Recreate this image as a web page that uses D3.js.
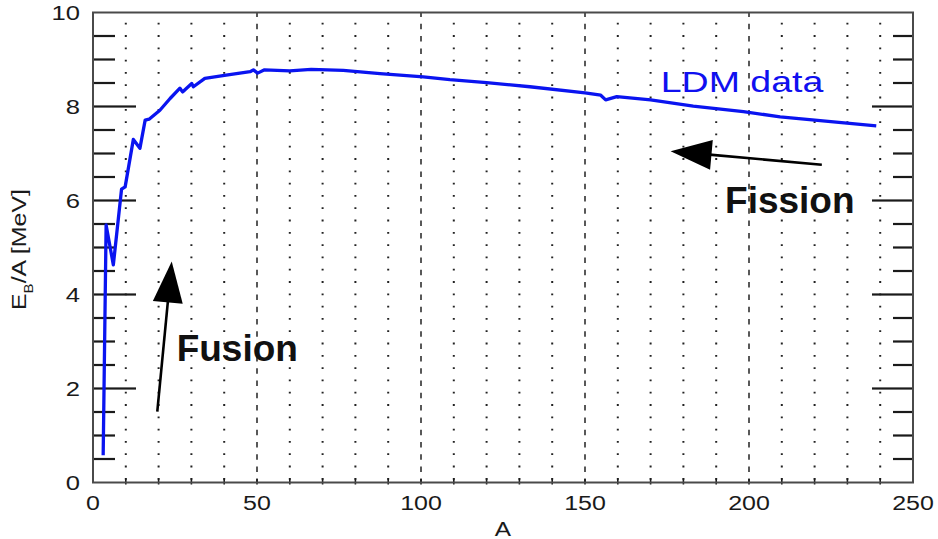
<!DOCTYPE html>
<html>
<head>
<meta charset="utf-8">
<script src="https://cdn.jsdelivr.net/npm/d3@7"></script>
<style>
  html, body { margin: 0; padding: 0; background: #fff; }
  svg { display: block; }
  text { font-family: "Liberation Sans", Arial, Helvetica, sans-serif; }
</style>
</head>
<body>
<svg id="chart" width="938" height="539"></svg>
<script>
// Binding energy per nucleon vs. mass number (liquid-drop model data)
const massNumber = [3.1, 4.0, 6.2, 8.7, 9.8, 12.3, 14.3, 15.9, 17.1, 20.4, 23.5, 26.5, 27.3, 30.1, 30.6,
  34.1, 40.6, 47.9, 48.9, 50.2, 52.3, 60, 66.5, 76.3, 87.5, 100.7, 108.8, 120, 133.2, 150,
  154.8, 156.3, 159.7, 170, 183, 198.3, 209.5, 238.8];
const bindingPerNucleon = [0.58, 5.48, 4.63, 6.24, 6.29, 7.30, 7.11, 7.71, 7.73, 7.92, 8.17, 8.39, 8.31, 8.49, 8.42,
  8.60, 8.67, 8.74, 8.78, 8.71, 8.78, 8.76, 8.79, 8.77, 8.70, 8.63, 8.57, 8.51, 8.42, 8.29,
  8.24, 8.14, 8.21, 8.14, 8.01, 7.89, 7.78, 7.59];

const xTickValues = [0, 50, 100, 150, 200, 250];
const yTickValues = [0, 2, 4, 6, 8, 10];
const yMinorTicks = [0.5, 1, 1.5, 2.5, 3, 3.5, 4.5, 5, 5.5, 6.5, 7, 7.5, 8.5, 9, 9.5];
const yMajorInner = [2, 4, 6, 8];
const xGridDotted = [10, 20, 30, 40, 60, 70, 80, 90, 110, 120, 130, 140, 160, 170, 180, 190, 210, 220, 230, 240];
const xGridDashed = [50, 100, 150, 200];
const xLabel = "A";
const seriesLabel = "LDM data";

// Process arrows: [tail A, tail E, head A, head E]
const fusionArrow = [19.6, 1.51, 24.0, 4.70];
const fissionArrow = [222.2, 6.76, 176.1, 7.05];
const fusionText = [25.5, 2.58, "Fusion"];
const fissionText = [192.7, 5.73, "Fission"];
const seriesText = [173.1, 8.31];

const W = 938, H = 539;
const margin = { left: 93, right: 25, top: 12.5, bottom: 56.5 };
const svg = d3.select("#chart");
const x = d3.scaleLinear().domain([0, 250]).range([margin.left, W - margin.right]);
const y = d3.scaleLinear().domain([0, 10]).range([H - margin.bottom, margin.top]);
const SX = 1.25; // horizontal stretch of the regular face

const frameColor = "#4a4a4a";
const tickColor = "#1a1a1a";

// vertical grid: dotted every 10, dashed every 50
const gridG = svg.append("g");
xGridDotted.forEach(v => {
  gridG.append("line")
    .attr("x1", x(v)).attr("x2", x(v))
    .attr("y1", y(10)).attr("y2", y(0))
    .attr("stroke", "#222").attr("stroke-width", 2)
    .attr("stroke-dasharray", "1.8,10.5").attr("stroke-dashoffset", 2);
});
xGridDashed.forEach(v => {
  gridG.append("line")
    .attr("x1", x(v)).attr("x2", x(v))
    .attr("y1", y(10)).attr("y2", y(0))
    .attr("stroke", "#222").attr("stroke-width", 1.5)
    .attr("stroke-dasharray", "5.5,6.8").attr("stroke-dashoffset", 1);
});

// inward tick marks on the y axes
const tickG = svg.append("g").attr("class", "y-ticks");
const tickRows = yMinorTicks.map(v => ({ v, inL: 22, inR: 20 }))
  .concat(yMajorInner.map(v => ({ v, inL: 43, inR: 41 })));
tickG.selectAll("rect.tl").data(tickRows).join("rect")
  .attr("class", "tl")
  .attr("x", x(0)).attr("y", d => y(d.v) - 1.1)
  .attr("width", d => d.inL).attr("height", 2.2)
  .attr("fill", tickColor);
tickG.selectAll("rect.tr").data(tickRows).join("rect")
  .attr("class", "tr")
  .attr("x", d => x(250) - d.inR).attr("y", d => y(d.v) - 1.1)
  .attr("width", d => d.inR).attr("height", 2.2)
  .attr("fill", tickColor);
tickG.selectAll("rect.tb").data(xGridDotted.concat(xGridDashed)).join("rect")
  .attr("class", "tb")
  .attr("x", d => x(d) - 0.8).attr("y", y(0) - 4)
  .attr("width", 1.6).attr("height", 6)
  .attr("fill", tickColor);

// frame
svg.append("rect")
  .attr("x", x(0)).attr("y", y(10))
  .attr("width", x(250) - x(0)).attr("height", y(0) - y(10))
  .attr("fill", "none").attr("stroke", frameColor).attr("stroke-width", 2);

// tick labels
const xAxisG = svg.append("g").attr("class", "x-labels");
xTickValues.forEach(v => {
  xAxisG.append("text")
    .attr("transform", `translate(${x(v)},${y(0) + 27}) scale(${SX},1)`)
    .attr("text-anchor", "middle")
    .attr("font-size", 20).attr("fill", "#1a1a1a")
    .text(v);
});
const yAxisG = svg.append("g").attr("class", "y-labels");
yTickValues.forEach(v => {
  yAxisG.append("text")
    .attr("transform", `translate(${x(0) - 13},${y(v) + 7.5}) scale(${SX},1)`)
    .attr("text-anchor", "end")
    .attr("font-size", 20.5).attr("fill", "#1a1a1a")
    .text(v);
});

// axis titles
svg.append("text")
  .attr("transform", `translate(${x(125)},${H - 3}) scale(${SX},1)`)
  .attr("text-anchor", "middle")
  .attr("font-size", 19.5).attr("fill", "#1a1a1a")
  .text(xLabel);

const yTitle = svg.append("text")
  .attr("transform", `translate(26,${y(5) + 2}) rotate(-90) scale(${SX},1)`)
  .attr("text-anchor", "middle")
  .attr("font-size", 20).attr("fill", "#1a1a1a");
yTitle.append("tspan").text("E");
yTitle.append("tspan").attr("font-size", 12).attr("dy", 7).text("B");
yTitle.append("tspan").attr("dy", -7).text("/A [MeV]");

// data curve
const pts = massNumber.map((a, i) => [a, bindingPerNucleon[i]]);
svg.append("path")
  .datum(pts)
  .attr("fill", "none")
  .attr("stroke", "#0a14f0")
  .attr("stroke-width", 3.3)
  .attr("stroke-linejoin", "round")
  .attr("d", d3.line().x(d => x(d[0])).y(d => y(d[1])));

// series label
svg.append("text")
  .attr("transform", `translate(${x(seriesText[0])},${y(seriesText[1])}) scale(${SX},1)`)
  .attr("font-size", 30).attr("fill", "#1010f0")
  .text(seriesLabel);

// arrows
function arrow(a) {
  const x1 = x(a[0]), y1 = y(a[1]), x2 = x(a[2]), y2 = y(a[3]);
  const dx = x2 - x1, dy = y2 - y1, L = Math.hypot(dx, dy);
  const ux = dx / L, uy = dy / L, nx = -uy, ny = ux;
  const hl = 41, hw = 15;
  const bx = x2 - ux * hl, by = y2 - uy * hl;
  svg.append("line")
    .attr("x1", x1).attr("y1", y1).attr("x2", bx + ux * 2).attr("y2", by + uy * 2)
    .attr("stroke", "#000").attr("stroke-width", 2.6);
  svg.append("path")
    .attr("d", `M${x2},${y2}L${bx + nx * hw},${by + ny * hw}L${bx - nx * hw},${by - ny * hw}Z`)
    .attr("fill", "#000");
}
arrow(fusionArrow);
arrow(fissionArrow);

[fusionText, fissionText].forEach(t => {
  svg.append("text")
    .attr("x", x(t[0])).attr("y", y(t[1]))
    .attr("font-size", 37).attr("font-weight", "bold").attr("fill", "#111")
    .text(t[2]);
});
</script>
</body>
</html>
